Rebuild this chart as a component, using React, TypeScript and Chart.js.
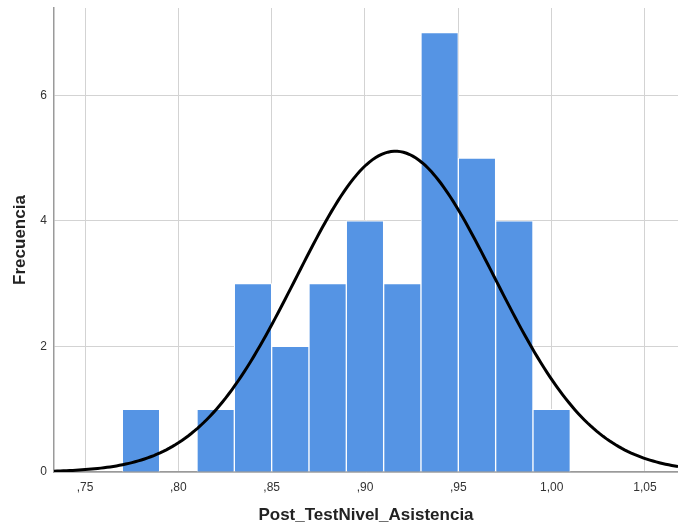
import React, { useEffect, useRef } from "react";
import { Chart, registerables } from "chart.js";

Chart.register(...registerables);

// Histogram bins (centre of each 0.02-wide bin) and frequencies
const binCenters = [0.78, 0.82, 0.84, 0.86, 0.88, 0.90, 0.92, 0.94, 0.96, 0.98, 1.00];
const frequencies = [1, 1, 3, 2, 3, 4, 3, 7, 5, 4, 1];
const xTicks = [0.75, 0.80, 0.85, 0.90, 0.95, 1.00, 1.05];
const yTicks = [0, 2, 4, 6];

// Normal curve parameters (SPSS fitted normal)
const curveMean = 0.9163;
const curveSd = 0.0531;
const curveN = 34;
const binWidth = 0.02;

const xMin = 0.73339;
const xMax = 1.0677;
const yMax = 7.39;

function buildCurve() {
  const pts: { x: number; y: number }[] = [];
  const steps = 200;
  for (let i = 0; i <= steps; i++) {
    const x = xMin + ((xMax - xMin) * i) / steps;
    const z = (x - curveMean) / curveSd;
    const y = (curveN * binWidth) / (curveSd * Math.sqrt(2 * Math.PI)) * Math.exp(-0.5 * z * z);
    pts.push({ x, y });
  }
  return pts;
}

const fmt = (v: number) => {
  const s = v.toFixed(2).replace(".", ",");
  return s.startsWith("0") ? s.slice(1) : s;
};

const FONT = "Liberation Sans, Arial, sans-serif";

export default function App() {
  const ref = useRef<HTMLCanvasElement>(null);
  useEffect(() => {
    if (!ref.current) return;
    const chart = new Chart(ref.current, {
      type: "bar",
      data: {
        datasets: [
          {
            type: "line",
            data: buildCurve(),
            borderColor: "#000000",
            borderWidth: 3,
            pointRadius: 0,
            fill: false,
            tension: 0,
            order: 0,
          } as any,
          {
            type: "bar",
            data: binCenters.map((x, i) => ({ x, y: frequencies[i] })),
            backgroundColor: "#5594e4",
            borderColor: "#ffffff",
            borderWidth: 1,
            borderSkipped: "bottom",
            barPercentage: 1,
            categoryPercentage: 1,
            order: 1,
          } as any,
        ],
      },
      options: {
        responsive: false,
        animation: false,
        layout: { padding: { left: 0, right: 0, top: 8, bottom: 0 } },
        plugins: { legend: { display: false }, tooltip: { enabled: false } },
        scales: {
          x: {
            type: "linear",
            min: xMin,
            max: xMax,
            offset: false,
            afterBuildTicks: (scale: any) => {
              scale.ticks = xTicks.map((v) => ({ value: v }));
            },
            afterFit: (scale: any) => {
              scale.height = 56;
              scale.paddingLeft = 0;
              scale.paddingRight = 0;
            },
            grid: { color: "#d3d3d3", lineWidth: 1, drawTicks: false, offset: false },
            border: { color: "#9a9a9a", width: 1.5 },
            ticks: {
              padding: 8,
              color: "#333333",
              font: { family: FONT, size: 12 },
              callback: (v: any) => fmt(Number(v)),
              maxRotation: 0,
              autoSkip: false,
            },
            title: {
              display: true,
              text: "Post_TestNivel_Asistencia",
              color: "#222222",
              font: { family: FONT, size: 17, weight: "bold" },
              padding: { bottom: 2 },
            },
          },
          y: {
            min: 0,
            max: yMax,
            afterBuildTicks: (scale: any) => {
              scale.ticks = yTicks.map((v) => ({ value: v }));
            },
            afterFit: (scale: any) => {
              scale.width = 54;
              scale.paddingTop = 0;
              scale.paddingBottom = 0;
            },
            grid: { color: "#d3d3d3", lineWidth: 1, drawTicks: false },
            border: { color: "#9a9a9a", width: 1.5 },
            ticks: {
              padding: 7,
              color: "#333333",
              font: { family: FONT, size: 12 },
            },
            title: {
              display: true,
              text: "Frecuencia",
              color: "#222222",
              font: { family: FONT, size: 17, weight: "bold" },
              padding: { top: 10 },
            },
          },
        },
      },
    });
    return () => chart.destroy();
  }, []);
  return (
    <div style={{ position: "fixed", left: 0, top: 0, width: 678, height: 528, background: "#ffffff" }}>
      <canvas ref={ref} width={678} height={528} />
    </div>
  );
}
